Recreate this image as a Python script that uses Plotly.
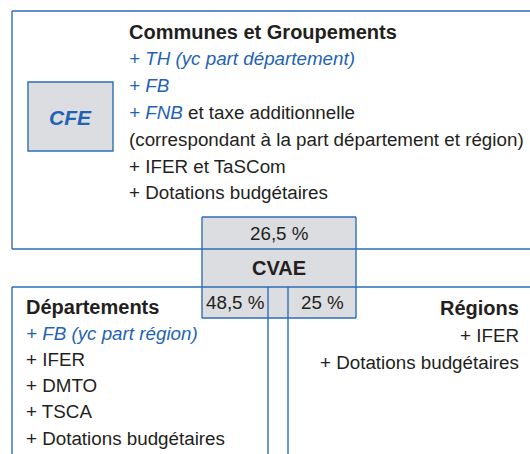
import plotly.graph_objects as go

# diagram content
cfe_label = "CFE"
cvae_label = "CVAE"
cvae_shares = ["26,5 %", "48,5 %", "25 %"]

communes_title = "Communes et Groupements"
communes_lines = [
    ("+ TH (yc part département)", ""),
    ("+ FB", ""),
    ("+ FNB", " et taxe additionnelle"),
    ("", "(correspondant à la part département et région)"),
    ("", "+ IFER et TaSCom"),
    ("", "+ Dotations budgétaires"),
]
dep_title = "Départements"
dep_lines = [
    ("+ FB (yc part région)", ""),
    ("", "+ IFER"),
    ("", "+ DMTO"),
    ("", "+ TSCA"),
    ("", "+ Dotations budgétaires"),
]
reg_title = "Régions"
reg_lines = ["+ IFER", "+ Dotations budgétaires"]

BLUE = "#1f63b4"
LINE = "#2e6db6"
DARK = "#231f20"
GRAY = "#dcdde0"
FONT = "Liberation Sans"
FS = 18.8
FS_TITLE = 20

fig = go.Figure()


def rect(x0, y0, x1, y1, fill=None):
    fig.add_shape(type="rect", x0=x0, y0=y0, x1=x1, y1=y1,
                  line=dict(color=LINE, width=1.4),
                  fillcolor=fill or "rgba(0,0,0,0)", layer="below")


def line(x0, y0, x1, y1):
    fig.add_shape(type="line", x0=x0, y0=y0, x1=x1, y1=y1,
                  line=dict(color=LINE, width=1.4))


def text(x, y, s, anchor="left", size=FS, color=DARK):
    fig.add_annotation(x=x, y=y, text=s, showarrow=False, xanchor=anchor,
                       yanchor="middle", font=dict(family=FONT, size=size, color=color))


def styled(blue_part, dark_part):
    out = ""
    if blue_part:
        out += f"<span style='color:{BLUE}'><i>{blue_part}</i></span>"
    if dark_part:
        out += dark_part
    return out


# gray CVAE block
fig.add_shape(type="rect", x0=202, y0=217, x1=356, y1=318,
              line=dict(width=0), fillcolor=GRAY, layer="below")

# top box (open on the right)
line(12, 11, 540, 11)
line(12, 11, 12, 249)
line(12, 249, 540, 249)
# bottom boxes
line(12, 287, 540, 287)
line(12, 287, 12, 470)
line(268, 287, 268, 470)
line(288, 287, 288, 470)
# CVAE frame
line(202, 217, 356, 217)
line(202, 217, 202, 318)
line(356, 217, 356, 318)
line(202, 318, 356, 318)

# CFE box
rect(28, 82, 113, 151, fill=GRAY)
text(70.5, 117, f"<b><i>{cfe_label}</i></b>", anchor="center", size=21, color=BLUE)

# top box text
y = 32
text(127, y, f"<b>{communes_title}</b>", size=FS_TITLE)
for blue_part, dark_part in communes_lines:
    y += 26.8
    text(127, y, styled(blue_part, dark_part))

# CVAE texts
text(279, 233, cvae_shares[0], anchor="center")
text(279, 268, f"<b>{cvae_label}</b>", anchor="center", size=FS_TITLE)
text(235, 302, cvae_shares[1], anchor="center")
text(322, 302, cvae_shares[2], anchor="center")

# Départements
y = 307
text(24, y, f"<b>{dep_title}</b>", size=FS_TITLE)
for blue_part, dark_part in dep_lines:
    y += 26.2
    text(24, y, styled(blue_part, dark_part))

# Régions
y = 308
text(521, y, f"<b>{reg_title}</b>", anchor="right", size=FS_TITLE)
for s in reg_lines:
    y += 27
    text(521, y, s, anchor="right")

fig.update_layout(
    width=530, height=454,
    margin=dict(l=0, r=0, t=0, b=0),
    paper_bgcolor="white", plot_bgcolor="white",
    showlegend=False,
    xaxis=dict(range=[0, 530], visible=False, fixedrange=True),
    yaxis=dict(range=[454, 0], visible=False, fixedrange=True),
)

fig.write_html("out.html", config={"displayModeBar": False},
               post_script="document.body.style.margin='0';")
